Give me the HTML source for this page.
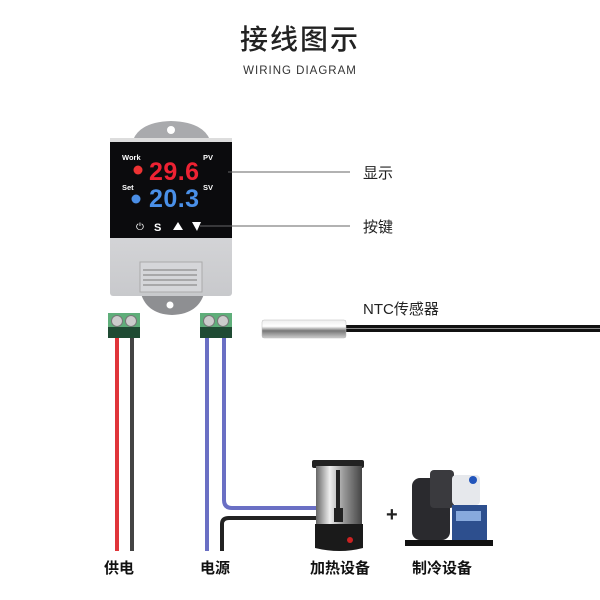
<!DOCTYPE html>
<html><head><meta charset="utf-8"><style>
html,body{margin:0;padding:0;background:#fff}
svg{display:block}
text{font-family:"Liberation Sans","Noto Sans CJK SC",sans-serif}
</style></head><body>
<svg width="600" height="600" viewBox="0 0 600 600" xmlns="http://www.w3.org/2000/svg">
<defs>
<linearGradient id="steel" x1="0" y1="0" x2="0" y2="1">
<stop offset="0" stop-color="#eee"/><stop offset=".35" stop-color="#fff"/><stop offset=".6" stop-color="#777"/><stop offset="1" stop-color="#ccc"/></linearGradient>
<linearGradient id="pot" x1="0" y1="0" x2="1" y2="0">
<stop offset="0" stop-color="#666"/><stop offset=".3" stop-color="#eee"/><stop offset=".6" stop-color="#999"/><stop offset="1" stop-color="#444"/></linearGradient>
<linearGradient id="case" x1="0" y1="0" x2="0" y2="1">
<stop offset="0" stop-color="#e6e6e8"/><stop offset="1" stop-color="#c8c9cc"/></linearGradient>
</defs>
<text x="300" y="49" font-size="28" text-anchor="middle" fill="#222" letter-spacing="2" font-weight="500">接线图示</text>
<text x="300" y="74" font-size="11.5" text-anchor="middle" fill="#333" letter-spacing="1">WIRING DIAGRAM</text>

<path d="M133 140 Q140 122 171 121 Q203 122 210 140 Z" fill="#a9aaad"/>
<circle cx="171" cy="130" r="4" fill="#fff"/>
<path d="M140 290 L205 290 Q200 314 172 315 Q145 314 140 290 Z" fill="#8e8f92"/>
<circle cx="170" cy="305" r="3.5" fill="#fff"/>
<rect x="110" y="140" width="122" height="156" rx="3" fill="url(#case)"/>
<rect x="110" y="140" width="122" height="98" fill="#0b0b0d"/>
<rect x="110" y="138" width="122" height="4" fill="#ddd"/>
<text x="122" y="160" font-size="7.5" fill="#fff" font-weight="bold">Work</text>
<text x="203" y="160" font-size="7.5" fill="#fff" font-weight="bold">PV</text>
<circle cx="138" cy="170" r="4.5" fill="#e33"/>
<text x="149" y="180" font-size="25" fill="#ee2233" font-weight="bold" textLength="50">29.6</text>
<text x="122" y="190" font-size="7.5" fill="#fff" font-weight="bold">Set</text>
<text x="203" y="190" font-size="7.5" fill="#fff" font-weight="bold">SV</text>
<circle cx="136" cy="199" r="4.5" fill="#4a8ee6"/>
<text x="149" y="207" font-size="25" fill="#4a90e8" font-weight="bold" textLength="50">20.3</text>
<text x="136" y="230" font-size="10" fill="#fff">⏻</text>
<text x="154" y="231" font-size="11" fill="#fff" font-weight="bold">S</text>
<path d="M173 230 L178 222 L183 230 Z" fill="#fff"/>
<path d="M192 222 L201 222 L197 231 Z" fill="#fff"/>
<rect x="140" y="262" width="62" height="30" fill="#d5d6d9" stroke="#aaa"/>
<g stroke="#999" stroke-width="1.5"><line x1="143" y1="270" x2="197" y2="270"/><line x1="143" y1="275" x2="197" y2="275"/><line x1="143" y1="280" x2="197" y2="280"/><line x1="143" y1="285" x2="197" y2="285"/></g>
<line x1="228" y1="172" x2="350" y2="172" stroke="#666" stroke-width="1"/>
<line x1="200" y1="226" x2="350" y2="226" stroke="#666" stroke-width="1"/>
<text x="363" y="178" font-size="15" fill="#222">显示</text>
<text x="363" y="232" font-size="15" fill="#222">按键</text>
<text x="363" y="314" font-size="15" fill="#222">NTC传感器</text>

<rect x="345" y="325" width="255" height="7" fill="#111"/>
<line x1="345" y1="328.5" x2="600" y2="328.5" stroke="#888" stroke-width="1"/>
<rect x="262" y="320" width="84" height="18" rx="2" fill="url(#steel)" stroke="#bbb" stroke-width=".5"/>

<g>
<rect x="108" y="313" width="32" height="15" fill="#5fae7a"/><rect x="108" y="327" width="32" height="11" fill="#1f4b33"/>
<circle cx="117" cy="321" r="5.5" fill="#ccc" stroke="#777"/><circle cx="131" cy="321" r="5.5" fill="#ccc" stroke="#777"/>
<rect x="200" y="313" width="32" height="15" fill="#5fae7a"/><rect x="200" y="327" width="32" height="11" fill="#1f4b33"/>
<circle cx="209" cy="321" r="5.5" fill="#ccc" stroke="#777"/><circle cx="223" cy="321" r="5.5" fill="#ccc" stroke="#777"/>
</g>
<g fill="none" stroke-width="4">
<line x1="117" y1="338" x2="117" y2="551" stroke="#e0353a"/>
<line x1="132" y1="338" x2="132" y2="551" stroke="#444"/>
<line x1="207" y1="338" x2="207" y2="551" stroke="#6a6fc4"/>
<path d="M224 338 L224 500 Q224 508 232 508 L316 508" stroke="#6a6fc4"/>
<path d="M222 551 L222 524 Q222 518 229 518 L316 518" stroke="#222"/>
</g>

<rect x="312" y="460" width="52" height="8" rx="2" fill="#222"/>
<rect x="316" y="466" width="46" height="58" fill="url(#pot)"/>
<rect x="336" y="470" width="4" height="40" fill="#222"/>
<rect x="334" y="508" width="9" height="14" fill="#222"/>
<path d="M315 524 L363 524 L363 548 Q340 554 315 548 Z" fill="#1a1a1a"/>
<circle cx="350" cy="540" r="3" fill="#c22"/>
<rect x="405" y="540" width="88" height="6" fill="#111"/>
<rect x="412" y="478" width="38" height="62" rx="8" fill="#2a2a2e"/>
<rect x="430" y="470" width="24" height="38" rx="4" fill="#3a3a3e"/>
<rect x="452" y="475" width="28" height="30" rx="4" fill="#e6e8ec"/>
<circle cx="473" cy="480" r="4" fill="#2255bb"/>
<rect x="452" y="505" width="35" height="35" fill="#2d4f8e"/>
<rect x="456" y="511" width="25" height="10" fill="#88aadd"/>
<text x="386" y="521" font-size="20" fill="#222" font-weight="bold">+</text>

<text x="104" y="573" font-size="15" fill="#111" font-weight="bold">供电</text>
<text x="200" y="573" font-size="15" fill="#111" font-weight="bold">电源</text>
<text x="310" y="573" font-size="15" fill="#111" font-weight="bold">加热设备</text>
<text x="412" y="573" font-size="15" fill="#111" font-weight="bold">制冷设备</text>
</svg>
</body></html>
